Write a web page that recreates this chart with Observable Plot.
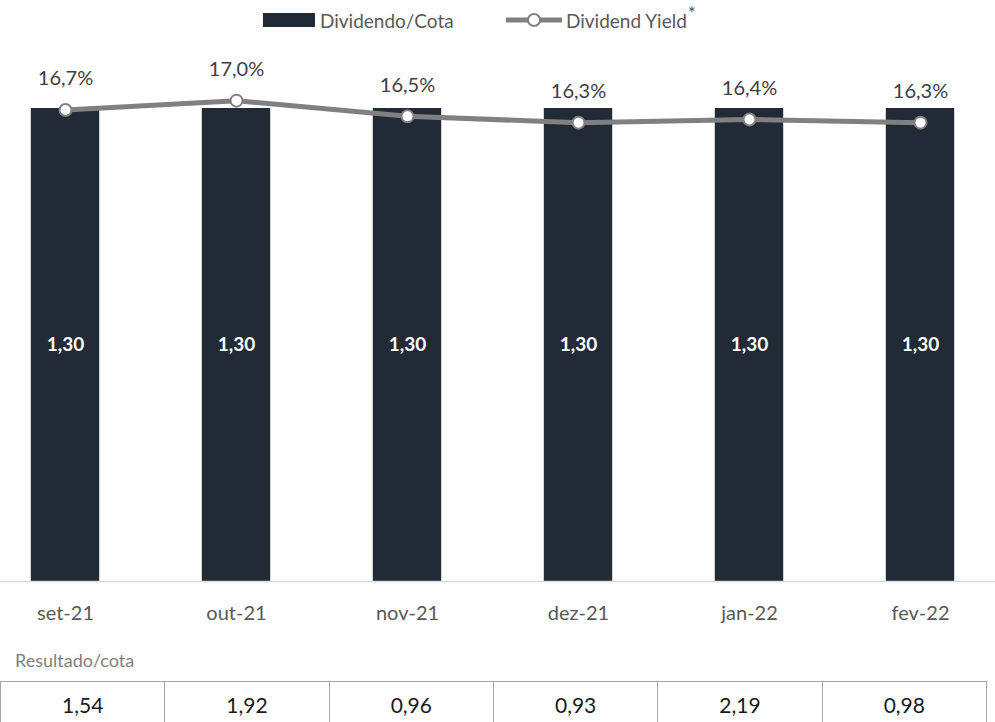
<!DOCTYPE html>
<html>
<head>
<meta charset="utf-8">
<script src="https://cdn.jsdelivr.net/npm/d3@7"></script>
<script src="https://cdn.jsdelivr.net/npm/@observablehq/plot@0.6"></script>
<style>
  html, body { margin: 0; padding: 0; background: #fff; }
  body { width: 995px; height: 722px; overflow: hidden; font-family: Lato, "Noto Sans", sans-serif; }
  #legend { height: 40px; position: relative; font-size: 19px; color: #595959; }
  #legend .item { position: absolute; top: 0; height: 40px; display: flex; align-items: center; }
  #chart svg { display: block; }
  #caption { height: 41px; line-height: 40px; padding-left: 15px; font-size: 18px; color: #7f7f7f; }
  table { border-collapse: collapse; width: 987px; table-layout: fixed; }
  td { border: 1.5px solid #a6a6a6; height: 52px; text-align: center; vertical-align: top; padding-top: 10px; font-size: 21px; color: #1a1a1a; box-sizing: border-box; }
</style>
</head>
<body>
<div id="legend"></div>
<div id="chart"></div>
<div id="caption"></div>
<div id="table"></div>
<script>
const months = ["set-21", "out-21", "nov-21", "dez-21", "jan-22", "fev-22"];
const dividendoCota = [1.30, 1.30, 1.30, 1.30, 1.30, 1.30];
const dividendYield = [16.7, 17.0, 16.5, 16.3, 16.4, 16.3];
const resultadoCota = [1.54, 1.92, 0.96, 0.93, 2.19, 0.98];
const legendLabels = ["Dividendo/Cota", "Dividend Yield"];
const captionLabel = "Resultado/cota";

const barColor = "#222a35";
const lineColor = "#808080";
const fmt2 = v => v.toFixed(2).replace(".", ",");
const fmtPct = v => v.toFixed(1).replace(".", ",") + "%";

// secondary axis (dividend yield) mapped onto the primary axis
const primaryDomain = [0, 1.30];
const secondaryDomain = [1.7, 16.75];
const toPrimary = d3.scaleLinear().domain(secondaryDomain).range(primaryDomain);

const rows = months.map((m, i) => ({
  month: m,
  div: dividendoCota[i],
  dy: dividendYield[i],
  dyP: toPrimary(dividendYield[i])
}));

const chart = Plot.plot({
  width: 995,
  height: 600,
  marginTop: 68,
  marginBottom: 59,
  marginLeft: 0,
  marginRight: 0,
  style: { fontFamily: "Lato, 'Noto Sans', sans-serif", background: "transparent" },
  x: { domain: months, range: [-20.5, 1005.5], paddingInner: 0.6, paddingOuter: 0.3, round: false, label: null },
  y: { domain: primaryDomain, axis: null },
  marks: [
    Plot.barY(rows, { x: "month", y: "div", fill: barColor }),
    Plot.ruleY([0], { stroke: "#d9d9d9", strokeWidth: 1.5 }),
    Plot.text(rows, { x: "month", y: d => d.div / 2, text: d => fmt2(d.div), fill: "white", fontWeight: "bold", fontSize: 19 }),
    Plot.line(rows, { x: "month", y: "dyP", stroke: lineColor, strokeWidth: 5 }),
    Plot.dot(rows, { x: "month", y: "dyP", r: 6, fill: "white", stroke: lineColor, strokeWidth: 2 }),
    Plot.text(rows, { x: "month", y: "dyP", dy: -31, text: d => fmtPct(d.dy), fill: "#404040", fontSize: 20 }),
    Plot.axisX({ tickSize: 0, tickPadding: 24, fontSize: 20, color: "#595959", label: null })
  ]
});
document.getElementById("chart").appendChild(chart);

// legend
const legend = document.getElementById("legend");
legend.innerHTML = `
  <div class="item" style="left:263px">
    <svg width="52" height="14" style="margin-right:5px"><rect width="52" height="14" fill="${barColor}"/></svg>
    <span>${legendLabels[0]}</span>
  </div>
  <div class="item" style="left:506px">
    <svg width="56" height="16" style="margin-right:4px">
      <line x1="0" x2="56" y1="8" y2="8" stroke="${lineColor}" stroke-width="5"/>
      <circle cx="28" cy="8" r="6" fill="white" stroke="${lineColor}" stroke-width="2"/>
    </svg>
    <span>${legendLabels[1]}<span style="font-size:19px;position:relative;top:-8px;margin-left:1px">*</span></span>
  </div>`;

document.getElementById("caption").textContent = captionLabel;

const tbl = document.createElement("table");
const tr = document.createElement("tr");
resultadoCota.forEach(v => {
  const td = document.createElement("td");
  td.textContent = fmt2(v);
  tr.appendChild(td);
});
tbl.appendChild(tr);
document.getElementById("table").appendChild(tbl);
</script>
</body>
</html>
